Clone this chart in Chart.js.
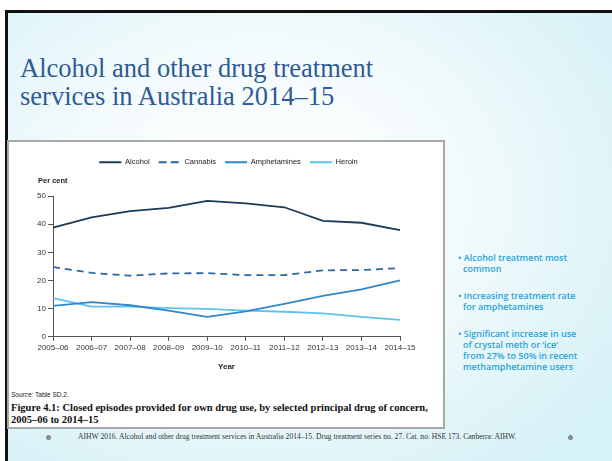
<!DOCTYPE html>
<html>
<head>
<meta charset="utf-8">
<script src="https://cdn.jsdelivr.net/npm/chart.js@4/dist/chart.umd.min.js"></script>
<style>
  html, body { margin: 0; padding: 0; }
  body { width: 612px; height: 461px; position: relative; overflow: hidden; background: #fff; }
  #slide {
    position: absolute; left: 5px; top: 10px; width: 607px; height: 451px;
    border-top: 3px solid #111; border-left: 3px solid #111; box-sizing: border-box;
    background: radial-gradient(ellipse 70% 75% at 42% 42%, #ffffff 0%, #f4fbfc 45%, #d6f1f7 100%);
  }
  #title {
    position: absolute; left: 20px; top: 54px; margin: 0;
    font-family: "Liberation Serif", serif; font-size: 26.5px; line-height: 28px;
    font-weight: normal; color: #2f5a98;
  }
  #figbox {
    position: absolute; left: 7px; top: 140px; width: 438px; height: 289px;
    box-sizing: border-box; border: 2px solid #a8a8a8; background: #fff;
  }
  #chartwrap { position: absolute; left: 9px; top: 143px; width: 432px; height: 235px; }
  .small { position: absolute; font-family: "Liberation Sans", Arial, sans-serif; color: #222; }
  #percent { left: 38px; top: 176px; font-size: 7.5px; font-weight: bold; }
  #source { left: 11px; top: 391px; font-size: 6.5px; }
  #caption {
    position: absolute; left: 11px; top: 402px; font-family: "Liberation Serif", serif;
    font-size: 10.5px; font-weight: bold; line-height: 12px; color: #111; white-space: nowrap;
  }
  #bullets {
    position: absolute; left: 458px; top: 252px; width: 122px;
    font-family: "Open Sans", "Liberation Sans", sans-serif; font-size: 9px; font-weight: 600;
    line-height: 11px; color: #29a3d8;
  }
  #bullets div { padding-left: 5px; text-indent: -5px; margin-bottom: 16px; }
  #footer {
    position: absolute; left: 78px; top: 432px; font-family: "Liberation Serif", serif;
    font-size: 7.6px; color: #333; white-space: nowrap;
  }
  .dot { position: absolute; width: 5px; height: 5px; border-radius: 50%; background: #8a8a8a; top: 435px; }
</style>
</head>
<body>
<div id="slide"></div>
<h1 id="title">Alcohol and other drug treatment<br>services in Australia 2014–15</h1>
<div id="figbox"></div>
<div id="chartwrap"><canvas id="chart" width="432" height="235"></canvas></div>
<div id="percent" class="small">Per cent</div>
<div id="source" class="small"><i>Source:</i> Table SD.2.</div>
<div id="caption">Figure 4.1: Closed episodes provided for own drug use, by selected principal drug of concern,<br>2005–06 to 2014–15</div>
<div id="bullets">
  <div>• Alcohol treatment most common</div>
  <div>• Increasing treatment rate for amphetamines</div>
  <div>• Significant increase in use of crystal meth or ‘ice’ from 27% to 50% in recent methamphetamine users</div>
</div>
<div class="dot" style="left:46px"></div>
<div class="dot" style="left:568px"></div>
<div id="footer">AIHW 2016. Alcohol and other drug treatment services in Australia 2014–15. Drug treatment series no. 27. Cat. no. HSE 173. Canberra: AIHW.</div>

<script>
const years = ['2005–06', '2006–07', '2007–08', '2008–09', '2009–10', '2010–11', '2011–12', '2012–13', '2013–14', '2014–15']
const alcohol = [38.8, 42.4, 44.6, 45.8, 48.3, 47.4, 46.0, 41.2, 40.5, 37.9]
const cannabis = [24.8, 22.7, 21.7, 22.5, 22.6, 21.9, 21.9, 23.6, 23.7, 24.4]
const amphetamines = [11.0, 12.3, 11.2, 9.3, 7.1, 9.0, 11.7, 14.5, 16.8, 20.0]
const heroin = [13.7, 10.7, 10.7, 10.2, 9.9, 9.3, 8.9, 8.3, 7.1, 6.0]
const yTicks = [0, 10, 20, 30, 40, 50]

function line(label, data, color, dash) {
    return {
        label: label,
        data: data,
        borderColor: color,
        backgroundColor: color,
        borderWidth: 1.8,
        borderDash: dash || [],
        pointRadius: 0,
        tension: 0,
        fill: false
    }
}

// leave room under the legend for the "Per cent" label, and nudge it right
const legendGap = {
    id: 'legendGap',
    beforeInit(chart) {
        const fit = chart.legend.fit
        chart.legend.fit = function () {
            fit.bind(chart.legend)()
            this.height += 20
        }
    },
    afterLayout(chart) {
        chart.legend.left += 24
        chart.legend.right += 24
    }
}

const axisColor = '#555'
const tickFont = { family: 'Liberation Sans', size: 8 }

new Chart(document.querySelector('#chart'), {
    type: 'line',
    data: {
        labels: years,
        datasets: [
            line('Alcohol', alcohol, '#1d3a56'),
            line('Cannabis', cannabis, '#2a68a6', [7, 5]),
            line('Amphetamines', amphetamines, '#2f87cc'),
            line('Heroin', heroin, '#5cc3ee')
        ]
    },
    options: {
        responsive: false,
        animation: false,
        devicePixelRatio: 1,
        layout: { padding: { left: 0, right: 41, top: 6.5, bottom: 6 } },
        plugins: {
            tooltip: { enabled: false },
            legend: {
                position: 'top',
                labels: {
                    boxWidth: 22,
                    boxHeight: 0,
                    padding: 9,
                    color: '#222',
                    font: { family: 'Liberation Sans', size: 7.5 }
                }
            }
        },
        scales: {
            x: {
                offset: false,
                grid: { drawOnChartArea: false, color: axisColor, tickLength: 4 },
                border: { color: axisColor },
                ticks: { color: '#333', font: tickFont, maxRotation: 0, autoSkip: false, padding: 2 },
                title: { display: true, text: 'Year', color: '#222', font: { family: 'Liberation Sans', size: 8, weight: 'bold' }, padding: { top: 8, bottom: 0 } }
            },
            y: {
                min: 0,
                max: 50,
                afterBuildTicks: axis => { axis.ticks = yTicks.map(v => ({ value: v })) },
                afterFit: axis => { axis.width = 44 },
                grid: { drawOnChartArea: false, color: axisColor, tickLength: 5 },
                border: { color: axisColor },
                ticks: { color: '#333', font: tickFont, padding: 2 }
            }
        }
    },
    plugins: [legendGap]
})
</script>
</body>
</html>
